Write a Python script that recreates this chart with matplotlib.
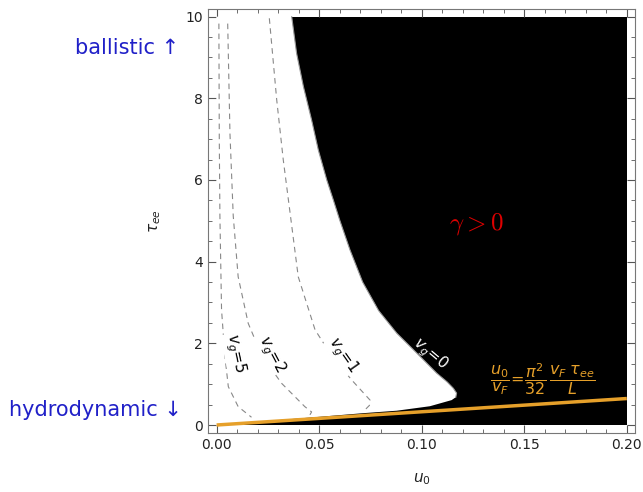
import numpy as np
import matplotlib.pyplot as plt
from matplotlib.ticker import MultipleLocator

# plot range
u_range = [0.0, 0.2]
tau_range = [0.0, 10.0]

# boundary of the gamma > 0 region (v_g = 0)
upper_u = [0.0366, 0.0390, 0.0423, 0.0463, 0.0496, 0.0537, 0.0569, 0.0600,
           0.0650, 0.0712, 0.0790, 0.0878, 0.0976, 0.1073, 0.1125, 0.1154,
           0.1170, 0.1166]
upper_tau = [10.0, 9.10, 8.29, 7.47, 6.73, 6.00, 5.51, 5.02,
             4.29, 3.50, 2.80, 2.25, 1.76, 1.27, 1.05, 0.90,
             0.78, 0.68]
lower_u = [0.1146, 0.1040, 0.0878, 0.0715, 0.0500, 0.0250, 0.0]
lower_tau = [0.61, 0.46, 0.35, 0.29, 0.20, 0.10, 0.0]

# dashed contours v_g = 1, 2, 5
vg1_u = [0.0257, 0.0293, 0.0325, 0.0358, 0.0398, 0.0480, 0.0560, 0.0659, 0.0748, 0.0745, 0.0723]
vg1_tau = [9.96, 7.96, 6.49, 5.20, 3.63, 2.33, 1.70, 1.10, 0.61, 0.48, 0.37]
vg2_u = [0.0054, 0.0065, 0.0081, 0.0105, 0.0154, 0.0220, 0.0317, 0.0430, 0.0463, 0.0455]
vg2_tau = [9.83, 7.14, 5.12, 3.63, 2.49, 1.70, 1.02, 0.45, 0.32, 0.25]
vg5_u = [0.0011, 0.0013, 0.0016, 0.0024, 0.0040, 0.0057, 0.0105, 0.0170]
vg5_tau = [9.83, 7.0, 5.12, 2.82, 1.70, 0.94, 0.45, 0.19]

# hydrodynamic line  u0/vF = pi^2/32 * vF tau_ee / L
line_u = np.array(u_range)
line_tau = line_u * 32 / np.pi**2

orange = "#e6a02a"
blue = "#2020c8"

fig = plt.figure(figsize=(6.43, 4.92), dpi=100)
ax = fig.add_axes([0.3235, 0.1199, 0.6641, 0.8612])

# black region, white lobe on top
ax.fill([u_range[0], u_range[1], u_range[1], u_range[0]],
        [tau_range[0], tau_range[0], tau_range[1], tau_range[1]],
        color="black", lw=0, zorder=1)
white_u = [0.0] + upper_u + lower_u
white_tau = [tau_range[1]] + upper_tau + lower_tau
ax.fill(white_u, white_tau, color="white", lw=0, zorder=2)
ax.plot(upper_u, upper_tau, color="#999999", lw=0.8, zorder=3)

for cu, ct in [(vg1_u, vg1_tau), (vg2_u, vg2_tau), (vg5_u, vg5_tau)]:
    ax.plot(cu, ct, color="#888888", lw=0.8, dashes=(5, 4), zorder=3)

ax.plot(line_u, line_tau, color=orange, lw=2.5, zorder=4, solid_capstyle="butt")

# contour labels
lab = dict(ha="center", va="center", fontsize=11, zorder=5)
wbox = dict(facecolor="white", edgecolor="none", pad=0.5)
ax.text(0.0090, 1.76, r"$v_g$=5", rotation=-78, bbox=wbox, **lab)
ax.text(0.0265, 1.74, r"$v_g$=2", rotation=-62, bbox=wbox, **lab)
ax.text(0.0615, 1.72, r"$v_g$=1", rotation=-55, bbox=wbox, **lab)
ax.text(0.1040, 1.74, r"$v_g$=0", rotation=-40, color="white", **lab)

ax.text(0.1265, 4.92, r"$\gamma > 0$", color="#dd0000", fontsize=18,
        ha="center", va="center", math_fontfamily="cm", zorder=5)
ax.text(0.159, 1.12,
        r"$\dfrac{u_0}{v_F}\!=\!\dfrac{\pi^2}{32}\,\dfrac{v_F\;\tau_{ee}}{L}$",
        color=orange, fontsize=11.5, ha="center", va="center", zorder=5)

ax.set_xlim(-0.0042, 0.204)
ax.set_ylim(-0.196, 10.18)

ax.xaxis.set_major_locator(MultipleLocator(0.05))
ax.xaxis.set_minor_locator(MultipleLocator(0.01))
ax.yaxis.set_major_locator(MultipleLocator(2))
ax.yaxis.set_minor_locator(MultipleLocator(0.5))
ax.xaxis.set_major_formatter(lambda v, p: f"{v:.2f}")
ax.yaxis.set_major_formatter(lambda v, p: f"{v:.0f}")
ax.tick_params(which="both", direction="in", top=True, right=True,
               color="#555555", labelsize=10, labelcolor="#222222")
ax.tick_params(which="major", length=6, width=0.8)
ax.tick_params(which="minor", length=3, width=0.6)
for s in ax.spines.values():
    s.set_color("#777777")
    s.set_linewidth(0.8)

ax.set_xlabel(r"$u_0$", fontsize=11, color="#222222", labelpad=14)
ax.set_ylabel(r"$\tau_{ee}$", fontsize=11, color="#222222", labelpad=16)

fig.text(0.198, 0.902, "ballistic \u2191", color=blue, fontsize=15,
         ha="center", va="center")
fig.text(0.1485, 0.167, "hydrodynamic \u2193", color=blue, fontsize=15,
         ha="center", va="center")

fig.savefig("out.png", dpi=100)
